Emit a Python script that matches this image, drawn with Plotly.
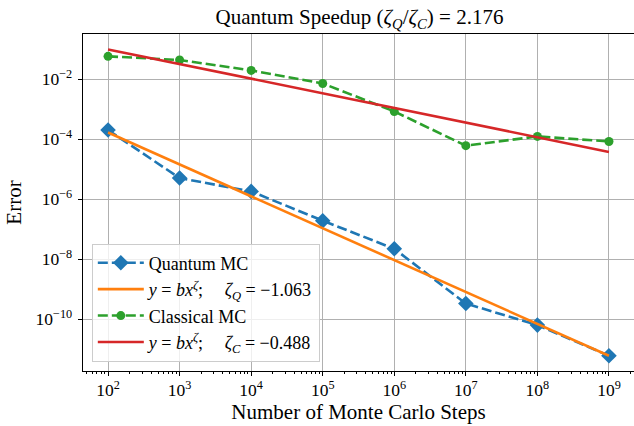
import numpy as np
import plotly.graph_objects as go

# Data
steps = [1e2, 1e3, 1e4, 1e5, 1e6, 1e7, 1e8, 1e9]
quantum_err = [2.0e-4, 5.0e-6, 1.8e-6, 1.9e-7, 2.2e-8, 3.3e-10, 6.3e-11, 6.0e-12]
classical_err = [5.7e-2, 4.3e-2, 1.94e-2, 7.1e-3, 8.3e-4, 6.0e-5, 1.22e-4, 8.3e-5]
zeta_Q = -1.063
zeta_C = -0.488
speedup = 2.176

FONT = "Liberation Serif"
BLUE, ORANGE, GREEN, RED = "#1f77b4", "#ff7f0e", "#2ca02c", "#d62728"


def power_fit(x, y, zeta):
    lx, ly = np.log10(x), np.log10(y)
    logb = ly.mean() - zeta * lx.mean()
    return 10 ** (logb + zeta * lx)


x = np.array(steps)
fitQ = power_fit(x, np.array(quantum_err), zeta_Q)
fitC = power_fit(x, np.array(classical_err), zeta_C)

GAP = "\u2003\u2009"
fig = go.Figure()
fig.add_trace(go.Scatter(
    x=steps, y=quantum_err, mode="lines+markers", name="Quantum MC",
    line=dict(color=BLUE, width=2.6, dash="10px,4px"),
    marker=dict(symbol="diamond", size=12, color=BLUE),
    legendgroup="a"))
fig.add_trace(go.Scatter(
    x=steps, y=fitQ, mode="lines",
    name="<i>y</i> = <i>bx</i><sup><i>ζ</i></sup>;" + GAP + "<i>ζ</i><sub><i>Q</i></sub> = −%.3f" % abs(zeta_Q),
    line=dict(color=ORANGE, width=2.6), legendgroup="b"))
fig.add_trace(go.Scatter(
    x=steps, y=classical_err, mode="lines+markers", name="Classical MC",
    line=dict(color=GREEN, width=2.6, dash="10px,4px"),
    marker=dict(symbol="circle", size=9, color=GREEN), legendgroup="c"))
fig.add_trace(go.Scatter(
    x=steps, y=fitC, mode="lines",
    name="<i>y</i> = <i>bx</i><sup><i>ζ</i></sup>;" + GAP + "<i>ζ</i><sub><i>C</i></sub> = −%.3f" % abs(zeta_C),
    line=dict(color=RED, width=2.6), legendgroup="d"))

fig.update_layout(
    width=634, height=426,
    margin=dict(l=83, r=0, t=34, b=55, autoexpand=False),
    paper_bgcolor="white", plot_bgcolor="white",
    font=dict(family=FONT, size=16, color="black"),
    title=dict(text="Quantum Speedup (<i>ζ</i><sub><i>Q</i></sub>/<i>ζ</i><sub><i>C</i></sub>) = %.3f" % speedup,
               x=0.567, xanchor="center", y=0.96, yanchor="middle",
               font=dict(family=FONT, size=21)),
    showlegend=True,
    legend=dict(x=0.016, y=0.028, xanchor="left", yanchor="bottom",
                bgcolor="rgba(255,255,255,0.8)", bordercolor="#cccccc", borderwidth=1,
                font=dict(family=FONT, size=18), traceorder="grouped", tracegroupgap=0,
                itemwidth=46),
)
fig.update_xaxes(
    type="log", range=[1.65, 9.35], dtick=1, exponentformat="power",
    automargin=False,
    showgrid=True, gridcolor="#b0b0b0", gridwidth=0.8,
    showline=True, mirror=True, linecolor="black", linewidth=1,
    ticks="outside", ticklen=4, tickwidth=1, tickcolor="black",
    minor=dict(ticks="outside", ticklen=2, tickwidth=0.7, tickcolor="black", showgrid=False),
    tickfont=dict(family=FONT, size=14),
    title=dict(text="Number of Monte Carlo Steps", font=dict(family=FONT, size=21), standoff=4),
    zeroline=False)
fig.update_yaxes(
    type="log", range=[-11.73, -0.5], dtick=2, exponentformat="power",
    automargin=False,
    showgrid=True, gridcolor="#b0b0b0", gridwidth=0.8,
    showline=True, mirror=True, linecolor="black", linewidth=1,
    ticks="outside", ticklen=4, tickwidth=1, tickcolor="black",
    ticklabelstandoff=3,
    tickfont=dict(family=FONT, size=14),
    title=dict(text="Error", font=dict(family=FONT, size=21), standoff=8),
    zeroline=False)

fig.write_html("out.html", config={"displayModeBar": False},
               post_script="document.body.style.margin='0';")
